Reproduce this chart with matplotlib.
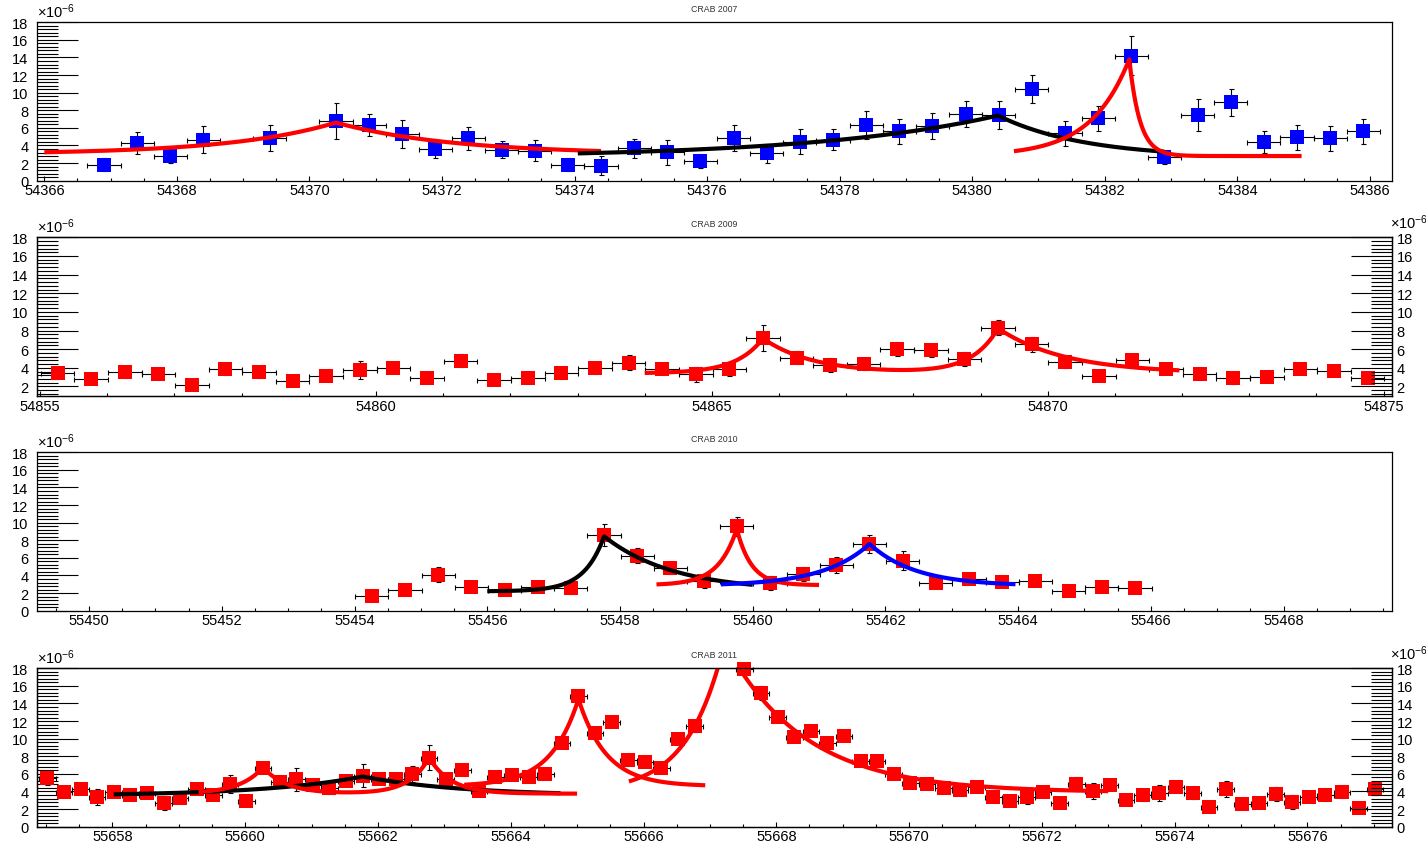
import numpy as np
import matplotlib
matplotlib.use("Agg")
import matplotlib.pyplot as plt
from matplotlib.ticker import MultipleLocator, FormatStrFormatter

plt.rcParams['font.family'] = ['Liberation Sans', 'DejaVu Sans']
plt.rcParams['mathtext.fontset'] = 'custom'
plt.rcParams['mathtext.rm'] = 'Liberation Sans'
plt.rcParams['mathtext.it'] = 'Liberation Sans:italic'
plt.rcParams['mathtext.bf'] = 'Liberation Sans:bold'

# ---------------------------------------------------------------- CRAB 2007
mjd_2007 = [54366.9, 54367.4, 54367.9, 54368.4, 54369.4, 54370.4, 54370.9, 54371.4,
            54371.9, 54372.4, 54372.9, 54373.4, 54373.9, 54374.4, 54374.9, 54375.4,
            54375.9, 54376.4, 54376.9, 54377.4, 54377.9, 54378.4, 54378.9, 54379.4,
            54379.9, 54380.4, 54380.9, 54381.4, 54381.9, 54382.4, 54382.9, 54383.4,
            54383.9, 54384.4, 54384.9, 54385.4, 54385.9]
flux_2007 = [1.82, 4.28, 2.84, 4.66, 4.85, 6.78, 6.33, 5.30, 3.60, 4.80, 3.52, 3.41,
             1.82, 1.70, 3.68, 3.22, 2.27, 4.82, 3.11, 4.43, 4.63, 6.36, 5.61, 6.18,
             7.58, 7.47, 10.42, 5.39, 7.09, 14.2, 2.66, 7.47, 8.90, 4.43, 4.93, 4.82, 5.61]
err_2007 = [0.7, 1.3, 0.8, 1.5, 1.5, 2.1, 1.2, 1.6, 1.0, 1.3, 1.0, 1.2, 0.7, 1.1, 1.1,
            1.4, 0.8, 1.5, 1.05, 1.4, 1.2, 1.6, 1.4, 1.5, 1.5, 1.6, 1.6, 1.4, 1.4, 2.2,
            0.75, 1.8, 1.5, 1.25, 1.4, 1.4, 1.4]
halfbin_2007 = 0.25
# fitted flare profiles: (start, end, baseline, [(peak, amplitude, rise, decay), ...], colour)
fits_2007 = [
    (54366.0, 54374.4, 3.0, [(54370.4, 3.6, 1.6, 1.75)], 'red'),
    (54374.05, 54382.9, 2.6, [(54380.39, 4.8, 2.8, 1.3)], 'black'),
    (54380.63, 54384.97, 2.8, [(54382.37, 11.0, 0.58, 0.16)], 'red'),
]

# ---------------------------------------------------------------- CRAB 2009
mjd_2009 = [54855.26, 54855.76, 54856.26, 54856.76, 54857.26, 54857.76, 54858.26, 54858.76,
            54859.26, 54859.76, 54860.26, 54860.76, 54861.26, 54861.76, 54862.26, 54862.76,
            54863.26, 54863.76, 54864.26, 54864.76, 54865.26, 54865.76, 54866.26, 54866.76,
            54867.26, 54867.76, 54868.26, 54868.76, 54869.26, 54869.76, 54870.26, 54870.76,
            54871.26, 54871.76, 54872.26, 54872.76, 54873.26, 54873.76, 54874.26, 54874.76]
flux_2009 = [3.41, 2.77, 3.52, 3.30, 2.16, 3.87, 3.52, 2.59, 3.12, 3.77,
             4.01, 2.88, 4.73, 2.70, 2.88, 3.41, 3.94, 4.55, 3.87, 3.30,
             3.87, 7.15, 5.08, 4.30, 4.41, 6.01, 5.90, 4.94, 8.32, 6.50,
             4.58, 3.16, 4.83, 3.87, 3.30, 2.88, 3.05, 3.87, 3.69, 2.95]
err_2009 = [0.4, 0.4, 0.6, 0.4, 0.3, 0.6, 0.6, 0.4, 0.5, 1.0,
            0.55, 0.5, 0.7, 0.5, 0.5, 0.6, 0.6, 0.8, 0.6, 0.8,
            0.75, 1.4, 0.7, 0.8, 0.6, 0.75, 0.7, 0.75, 0.85, 0.8,
            0.6, 0.6, 0.6, 0.5, 0.4, 0.6, 0.4, 0.5, 0.5, 0.5]
halfbin_2009 = 0.25
fits_2009 = [
    (54864.0, 54871.96, 3.4, [(54865.76, 3.75, 0.4, 0.75), (54869.26, 4.8, 0.39, 1.0)], 'red'),
]

# ---------------------------------------------------------------- CRAB 2010
mjd_2010 = [55454.26, 55454.76, 55455.26, 55455.76, 55456.26, 55456.76, 55457.26, 55457.76,
            55458.26, 55458.76, 55459.26, 55459.76, 55460.26, 55460.76, 55461.26, 55461.76,
            55462.26, 55462.76, 55463.26, 55463.76, 55464.26, 55464.76, 55465.26, 55465.76]
flux_2010 = [1.63, 2.39, 4.09, 2.65, 2.39, 2.73, 2.58, 8.60, 6.25, 4.81, 3.41, 9.58,
             3.14, 4.17, 5.19, 7.58, 5.68, 3.14, 3.60, 3.30, 3.41, 2.20, 2.65, 2.54]
err_2010 = [0.35, 0.45, 0.85, 0.55, 0.45, 0.45, 0.7, 1.2, 0.85, 0.6, 0.8, 1.1,
            0.75, 0.8, 0.9, 1.0, 1.1, 0.4, 0.35, 0.4, 0.4, 0.3, 0.35, 0.35]
halfbin_2010 = 0.25
fits_2010 = [
    (55456.0, 55460.0, 2.2, [(55457.76, 6.25, 0.3, 1.05)], 'black'),
    (55458.55, 55461.0, 2.9, [(55459.76, 6.4, 0.28, 0.22)], 'red'),
    (55459.52, 55463.96, 2.8, [(55461.76, 4.78, 0.7, 0.7)], 'blue'),
]

# ---------------------------------------------------------------- CRAB 2011
mjd_2011 = [55657.02, 55657.27, 55657.52, 55657.77, 55658.02, 55658.27, 55658.52, 55658.77,
            55659.02, 55659.27, 55659.52, 55659.77, 55660.02, 55660.27, 55660.52, 55660.77,
            55661.02, 55661.27, 55661.52, 55661.77, 55662.02, 55662.27, 55662.52, 55662.77,
            55663.02, 55663.27, 55663.52, 55663.77, 55664.02, 55664.27, 55664.52, 55664.77,
            55665.02, 55665.27, 55665.52, 55665.77, 55666.02, 55666.27, 55666.52, 55666.77,
            55667.52, 55667.77, 55668.02, 55668.27, 55668.52, 55668.77, 55669.02, 55669.27,
            55669.52, 55669.77, 55670.02, 55670.27, 55670.52, 55670.77, 55671.02, 55671.27,
            55671.52, 55671.77, 55672.02, 55672.27, 55672.52, 55672.77, 55673.02, 55673.27,
            55673.52, 55673.77, 55674.02, 55674.27, 55674.52, 55674.77, 55675.02, 55675.27,
            55675.52, 55675.77, 55676.02, 55676.27, 55676.52, 55676.77, 55677.02]
flux_2011 = [5.58, 3.95, 4.33, 3.38, 3.95, 3.61, 3.87, 2.66, 3.30, 4.25,
             3.61, 4.82, 2.92, 6.72, 5.09, 5.39, 4.75, 4.37, 5.20, 5.77,
             5.39, 5.39, 5.96, 7.86, 5.39, 6.46, 4.00, 5.70, 5.85, 5.66,
             6.04, 9.50, 14.81, 10.63, 11.85, 7.60, 7.37, 6.72, 9.95, 11.47,
             17.93, 15.15, 12.50, 10.22, 10.90, 9.46, 10.25, 7.41,
             7.41, 6.04, 4.94, 4.82, 4.37, 4.14, 4.56, 3.38, 2.92, 3.38,
             3.99, 2.66, 4.82, 4.06, 4.75, 3.04, 3.57, 3.87, 4.52, 3.80,
             2.24, 4.25, 2.54, 2.66, 3.68, 2.81, 3.38, 3.57, 3.99, 2.16,
             4.25]
err_2011 = [0.8, 0.4, 0.5, 0.95, 0.5, 0.5, 0.5, 0.8, 0.5, 0.5,
            0.5, 1.0, 0.4, 0.5, 0.6, 1.3, 0.5, 0.6, 0.6, 1.3,
            0.5, 0.5, 0.9, 1.4, 0.7, 0.5, 0.5, 0.5, 0.5, 0.5,
            0.5, 0.5, 0.4, 0.4, 0.4, 0.4, 0.4, 0.4, 0.5, 0.7,
            0.4, 0.8, 0.5, 0.4, 0.4, 0.6, 0.4, 0.4,
            0.4, 0.5, 0.4, 0.4, 0.4, 0.4, 0.4, 0.6, 0.5, 0.8,
            0.6, 0.4, 0.8, 0.9, 0.6, 0.6, 0.6, 0.9, 0.6, 0.6,
            0.5, 0.9, 0.4, 0.4, 0.8, 0.8, 0.6, 0.6, 0.7, 0.6,
            0.7]
halfbin_2011 = 0.125
fits_2011 = [
    (55658.02, 55664.75, 3.5, [(55661.77, 2.2, 1.5, 1.5)], 'black'),
    (55659.3, 55665.0, 3.75, [(55660.27, 3.0, 0.35, 0.35), (55662.77, 4.1, 0.3, 0.33)], 'red'),
    (55663.3, 55666.93, 4.6, [(55665.02, 9.9, 0.42, 0.42)], 'red'),
    (55665.78, 55673.0, 3.9, [(55667.22, 17.0, 0.55, 1.2)], 'red'),
]

# ---------------------------------------------------------------- layout
panels = [
    dict(title='CRAB 2007', t=mjd_2007, f=flux_2007, e=err_2007, hw=halfbin_2007,
         fits=fits_2007, colour='#0000ff', xlim=(54365.885, 54386.33), ylim=(0, 18),
         xmaj=2, xmin=0.5, right=False, bottom=0.7850),
    dict(title='CRAB 2009', t=mjd_2009, f=flux_2009, e=err_2009, hw=halfbin_2009,
         fits=fits_2009, colour='#ff0000', xlim=(54854.95, 54875.12), ylim=(1, 18),
         xmaj=5, xmin=1, right=True, bottom=0.5305),
    dict(title='CRAB 2010', t=mjd_2010, f=flux_2010, e=err_2010, hw=halfbin_2010,
         fits=fits_2010, colour='#ff0000', xlim=(55449.21, 55469.63), ylim=(0, 18),
         xmaj=2, xmin=0.5, right=False, bottom=0.2761),
    dict(title='CRAB 2011', t=mjd_2011, f=flux_2011, e=err_2011, hw=halfbin_2011,
         fits=fits_2011, colour='#ff0000', xlim=(55656.86, 55677.27), ylim=(0, 18),
         xmaj=2, xmin=0.5, right=True, bottom=0.0205),
]

AX_LEFT, AX_WIDTH, AX_HEIGHT = 0.02574, 0.95022, 0.18746
FS = 10.5
EXPO = r'$\times10^{-6}$'


def flare_profile(t, base, flares):
    y = np.full_like(t, base, dtype=float)
    for t0, amp, rise, decay in flares:
        dt = t - t0
        y += amp * np.where(dt < 0, np.exp(np.minimum(dt, 0) / rise),
                            np.exp(-np.maximum(dt, 0) / decay))
    return y


def style_y(axis_obj, pad):
    axis_obj.yaxis.set_major_locator(MultipleLocator(2))
    axis_obj.yaxis.set_minor_locator(MultipleLocator(0.4))
    axis_obj.yaxis.set_major_formatter(FormatStrFormatter('%d'))
    axis_obj.tick_params(axis='y', which='major', direction='in', length=29.5,
                         width=0.8, pad=pad, labelsize=FS)
    axis_obj.tick_params(axis='y', which='minor', direction='in', length=14.8, width=0.8)


fig = plt.figure(figsize=(14.26, 8.45), dpi=100)

for p in panels:
    ax = fig.add_axes([AX_LEFT, p['bottom'], AX_WIDTH, AX_HEIGHT])
    ax.set_xlim(*p['xlim'])
    ax.set_ylim(*p['ylim'])

    ax.xaxis.set_major_locator(MultipleLocator(p['xmaj']))
    ax.xaxis.set_minor_locator(MultipleLocator(p['xmin']))
    ax.xaxis.set_major_formatter(FormatStrFormatter('%d'))
    ax.tick_params(axis='x', which='major', direction='in', length=3.6, width=0.8,
                   pad=2, labelsize=FS, top=False)
    ax.tick_params(axis='x', which='minor', direction='in', length=2.0, width=0.8, top=False)
    style_y(ax, 6)
    ax.tick_params(axis='y', which='both', right=False)
    for s in ax.spines.values():
        s.set_linewidth(0.9)

    # measurements
    ax.errorbar(p['t'], p['f'], yerr=p['e'], xerr=p['hw'], fmt='none', ecolor='black',
                elinewidth=0.8, capsize=1.8, capthick=0.8, zorder=2, clip_on=False)
    ax.plot(p['t'], p['f'], 's', color=p['colour'], ms=10, mew=0, zorder=3, clip_on=False)

    # fitted flare profiles
    for t_start, t_end, base, flares, col in p['fits']:
        tt = np.linspace(t_start, t_end, 600)
        ax.plot(tt, flare_profile(tt, base, flares), color=col, lw=3, zorder=4,
                solid_capstyle='butt')

    ax.text(0.0, 1.0 + 2 / 158.4, EXPO, transform=ax.transAxes, ha='left', va='bottom',
            fontsize=FS)
    ax.text(0.5, 1.0 + 14 / 158.4, p['title'], transform=ax.transAxes, ha='center',
            va='center', fontsize=6.3, color='#333333')

    if p['right']:
        ax2 = ax.twinx()
        ax2.set_ylim(*p['ylim'])
        style_y(ax2, 3.5)
        ax2.tick_params(axis='y', which='both', left=False, right=True)
        for s in ax2.spines.values():
            s.set_linewidth(0.9)
        ax2.text(1.0 - 2 / 1355, 1.0 + 6 / 158.4, EXPO, transform=ax2.transAxes,
                 ha='left', va='bottom', fontsize=FS)

fig.savefig('out.png', dpi=100)
